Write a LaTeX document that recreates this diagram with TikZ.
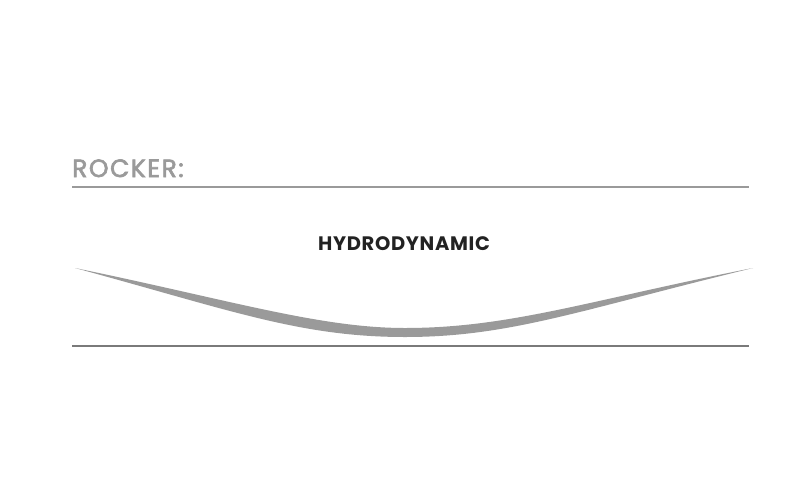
\documentclass[tikz,border=0pt]{standalone}
\usepackage{fontspec}
\setmainfont{Poppins}
\newfontfamily\rockfont[FakeBold=2.5,LetterSpace=6]{Poppins}
\newfontfamily\hydrofont[LetterSpace=3.5]{Poppins}
\definecolor{rockgray}{HTML}{9A9A9A}
\definecolor{linegray}{HTML}{7A7A7A}
\definecolor{darktext}{HTML}{222222}
\begin{document}
\begin{tikzpicture}[x=1pt,y=-1pt,
  title/.style={anchor=base west,inner sep=0pt,text=rockgray,font=\rockfont\fontsize{25}{30}\selectfont},
  label/.style={anchor=base,inner sep=0pt,text=darktext,font=\hydrofont\bfseries\fontsize{19.5}{22}\selectfont}]
\useasboundingbox[fill=white] (0,0) rectangle (800,496);
\node[title] (rocker) at (72,177) {ROCKER:};
\coordinate (tl) at (72,187);
\coordinate (tr) at (749,187);
\draw[rockgray,line width=2pt] (tl) -- (tr);
\node[label] (hydro) at (404,250) {HYDRODYNAMIC};
\coordinate (bl) at (72,346);
\coordinate (br) at (749,346);
\draw[linegray,line width=1.2pt] (bl) -- (br);
\coordinate (lt) at (75,268);
\coordinate (rt) at (753,268);
\fill[rockgray] (lt) .. controls (230,300) and (320,328) .. (405,328)
  .. controls (510,328) and (590,300) .. (rt)
  .. controls (580,310) and (510,337) .. (405,337)
  .. controls (300,337) and (230,310) .. (lt) -- cycle;
\end{tikzpicture}
\end{document}
